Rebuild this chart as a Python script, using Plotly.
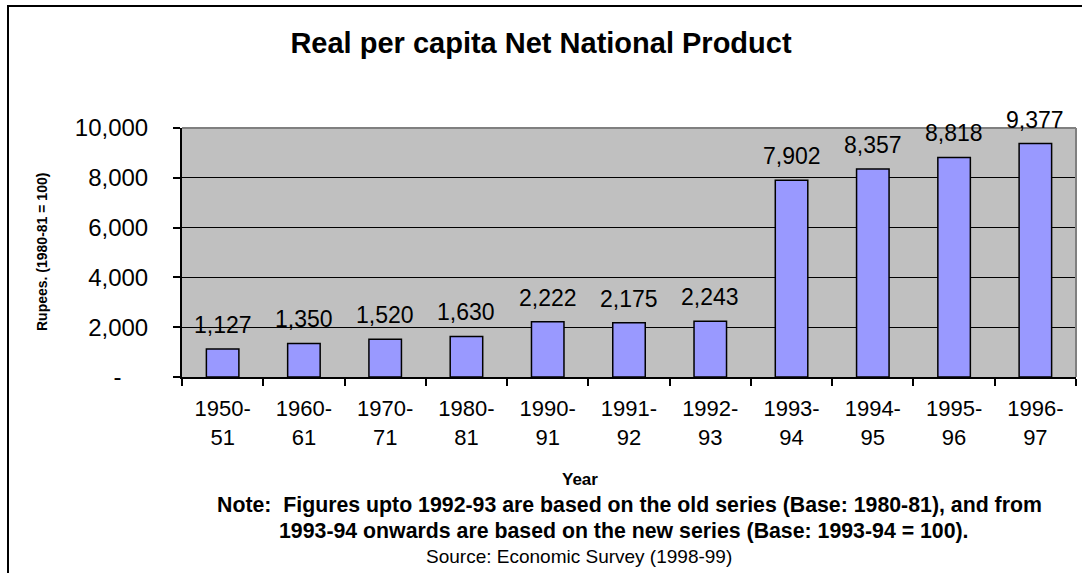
import plotly.graph_objects as go

categories = ["1950-<br>51", "1960-<br>61", "1970-<br>71", "1980-<br>81", "1990-<br>91",
              "1991-<br>92", "1992-<br>93", "1993-<br>94", "1994-<br>95", "1995-<br>96", "1996-<br>97"]
values = [1127, 1350, 1520, 1630, 2222, 2175, 2243, 7902, 8357, 8818, 9377]
y_tickvals = [0, 2000, 4000, 6000, 8000, 10000]
y_ticktext = ["-\u00a0\u00a0\u00a0\u00a0", "2,000", "4,000", "6,000", "8,000", "10,000"]

W, H = 1082, 573
L, R, T, B = 182, 1076, 128, 377  # plot area pixel box


def px(x):
    return (x - L) / (R - L)


def py(y):
    return (B - y) / (B - T)


FONT = "Liberation Sans, Arial, sans-serif"

fig = go.Figure()
fig.add_trace(go.Bar(
    x=categories, y=values,
    marker=dict(color="#9999FF", line=dict(color="black", width=1.5)),
    hoverinfo="x+y",
))

annotations = []
for c, v in zip(categories, values):
    annotations.append(dict(x=c, y=v, xref="x", yref="y", text=f"{v:,}", showarrow=False,
                            xanchor="center", yanchor="bottom", yshift=9,
                            font=dict(size=23, color="black", family=FONT)))


def note(x, y, text, size, angle=0):
    return dict(x=px(x), y=py(y), xref="paper", yref="paper", text=text, textangle=angle,
                showarrow=False, xanchor="center", yanchor="middle",
                font=dict(size=size, color="black", family=FONT))


annotations += [
    note(42, 252, "<b>Rupees. (1980-81 = 100)</b>", 14, -90),
    note(580, 479, "<b>Year</b>", 17),
    note(629, 505, "<b>Note:  Figures upto 1992-93 are based on the old series (Base: 1980-81), and from</b>", 21.3),
    note(624, 531, "<b>1993-94 onwards are based on the new series (Base: 1993-94 = 100).</b>", 21.3),
    note(579, 556, "Source: Economic Survey (1998-99)", 19),
]

shapes = [
    # outer chart frame (extends past right/bottom edges as in the reference)
    dict(type="rect", xref="paper", yref="paper", x0=px(8), x1=px(1095), y0=py(590), y1=py(6),
         line=dict(color="black", width=2), layer="below"),
    # grey plot-area border top and right
    dict(type="line", xref="paper", yref="paper", x0=0, x1=1, y0=1, y1=1,
         line=dict(color="#808080", width=2), layer="above"),
    dict(type="line", xref="paper", yref="paper", x0=1, x1=1, y0=0, y1=1,
         line=dict(color="#808080", width=2), layer="above"),
]

fig.update_layout(
    width=W, height=H,
    margin=dict(l=L, r=W - R, t=T, b=H - B),
    paper_bgcolor="white",
    plot_bgcolor="#C0C0C0",
    bargap=0.6,
    showlegend=False,
    font=dict(family=FONT, color="black"),
    title=dict(text="<b>Real per capita Net National Product</b>", x=0.5, xanchor="center",
               y=1 - 43 / H, yanchor="middle", yref="container",
               font=dict(size=29, color="black", family=FONT)),
    xaxis=dict(type="category", tickson="boundaries", ticks="outside", ticklen=7, tickwidth=1.5,
               tickcolor="black", showline=True, linecolor="black", linewidth=2,
               showgrid=False, tickfont=dict(size=22, color="black", family=FONT),
               ticklabelstandoff=11),
    yaxis=dict(range=[0, 10000], tickvals=y_tickvals, ticktext=y_ticktext, ticks="outside",
               ticklen=7, tickwidth=1.5, tickcolor="black", showline=True, linecolor="black",
               linewidth=2, showgrid=True, gridcolor="black", gridwidth=1, zeroline=False,
               tickfont=dict(size=24, color="black", family=FONT), ticklabelstandoff=20),
    annotations=annotations,
    shapes=shapes,
)

fig.write_html("out.html")
